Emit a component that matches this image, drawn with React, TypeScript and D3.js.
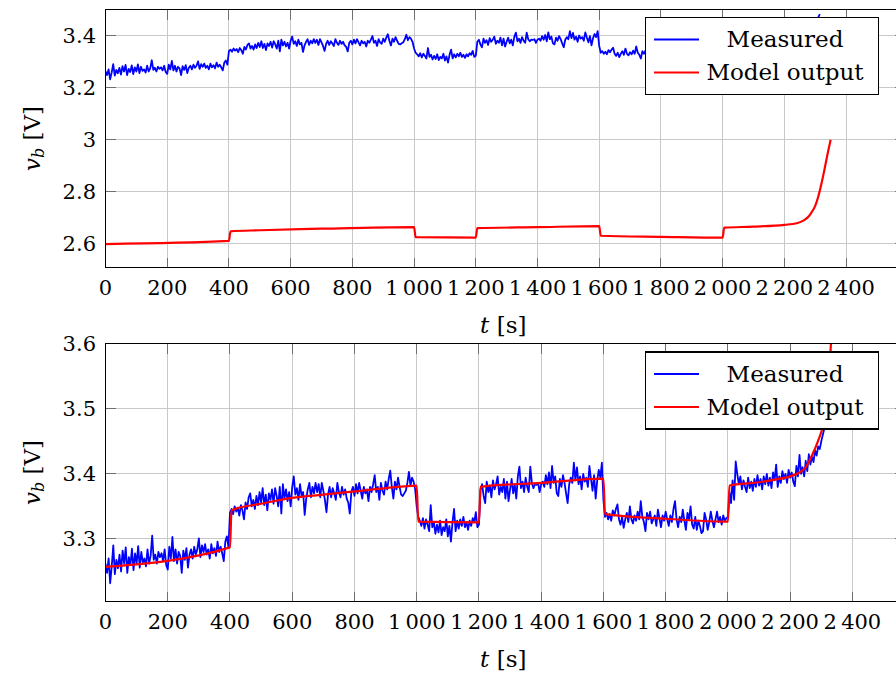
import React from "react";
import * as d3 from "d3";

// Time axis ticks [s] and voltage ticks [V]
const timeTicks = [0, 200, 400, 600, 800, 1000, 1200, 1400, 1600, 1800, 2000, 2200, 2400];
const topVoltTicks = [2.6, 2.8, 3, 3.2, 3.4];
const bottomVoltTicks = [3.3, 3.4, 3.5, 3.6];

// Measured terminal voltage, sampled every 5 s, in mV; one array per load step
const SAMPLE_STEP = 5;
const measuredStarts = [0, 400, 1000, 1200, 1600, 2000];
const measured0to400 = [
  3262, 3248, 3270, 3232, 3258, 3290, 3246, 3268, 3255, 3276, 3250, 3282, 3262, 3287, 3248, 3272,
  3260, 3285, 3252, 3278, 3262, 3289, 3256, 3280, 3264, 3270, 3258, 3284, 3262, 3274, 3305, 3268,
  3276, 3262, 3280, 3272, 3278, 3266, 3284, 3260, 3253, 3288, 3270, 3303, 3266, 3284, 3262, 3280,
  3274, 3248, 3282, 3268, 3286, 3256, 3276, 3284, 3270, 3288, 3276, 3284, 3301, 3272, 3290, 3280,
  3292, 3276, 3284, 3270, 3292, 3278, 3286, 3274, 3296, 3280, 3288, 3278, 3266, 3296, 3304, 3288,
];
const measured400to1000 = [
  3340, 3346, 3338, 3350, 3342, 3348, 3336, 3352, 3344, 3330, 3356, 3346, 3364, 3370, 3350, 3360,
  3346, 3366, 3352, 3372, 3356, 3378, 3352, 3368, 3344, 3370, 3360, 3376, 3354, 3378, 3366, 3350,
  3380, 3339, 3384, 3362, 3376, 3358, 3372, 3350, 3380, 3396, 3368, 3378, 3360, 3384, 3366, 3372,
  3337, 3362, 3376, 3386, 3364, 3380, 3370, 3386, 3372, 3384, 3364, 3386, 3374, 3360, 3341, 3368,
  3380, 3364, 3378, 3370, 3360, 3386, 3372, 3364, 3380, 3368, 3376, 3362, 3356, 3339, 3372, 3380,
  3366, 3384, 3370, 3386, 3374, 3362, 3380, 3370, 3376, 3358, 3380, 3372, 3384, 3398, 3372, 3380,
  3360, 3386, 3374, 3368, 3388, 3376, 3392, 3405, 3380, 3362, 3388, 3376, 3394, 3380, 3368, 3366,
  3370, 3374, 3386, 3403, 3382, 3394, 3388, 3376,
];
const measured1000to1200 = [
  3350, 3334, 3328, 3320, 3332, 3316, 3330, 3322, 3312, 3352, 3318, 3326, 3308, 3322, 3310, 3328,
  3306, 3318, 3312, 3330, 3304, 3320, 3296, 3326, 3346, 3312, 3328, 3316, 3330, 3320, 3334, 3318,
  3326, 3314, 3328, 3320, 3332, 3326, 3341, 3318,
];
const measured1200to1600 = [
  3322, 3376, 3384, 3366, 3355, 3388, 3372, 3382, 3364, 3390, 3376, 3384, 3396, 3368, 3380, 3372,
  3392, 3362, 3388, 3358, 3376, 3392, 3370, 3384, 3362, 3396, 3411, 3378, 3388, 3372, 3394, 3380,
  3372, 3411, 3386, 3378, 3384, 3383, 3386, 3372, 3384, 3388, 3380, 3398, 3384, 3402, 3378, 3412,
  3386, 3396, 3370, 3366, 3392, 3380, 3398, 3386, 3370, 3355, 3384, 3394, 3386, 3417, 3390, 3410,
  3384, 3396, 3376, 3400, 3388, 3394, 3380, 3412, 3392, 3374, 3398, 3362, 3390, 3406, 3394, 3417,
];
const measured1600to2000 = [
  3360, 3334, 3340, 3330, 3338, 3328, 3344, 3336, 3346, 3353, 3330, 3322, 3334, 3317, 3330, 3340,
  3326, 3350, 3330, 3324, 3336, 3328, 3342, 3330, 3358, 3334, 3326, 3312, 3340, 3330, 3342, 3324,
  3330, 3336, 3320, 3345, 3332, 3318, 3336, 3328, 3342, 3330, 3320, 3336, 3326, 3346, 3358, 3330,
  3318, 3334, 3326, 3345, 3328, 3314, 3340, 3330, 3350, 3322, 3316, 3334, 3314, 3328, 3320, 3309,
  3312, 3340, 3330, 3314, 3326, 3342, 3328, 3318, 3330, 3342, 3326, 3334, 3322, 3336, 3328, 3332,
];
const measured2000toEnd = [
  3334, 3372, 3355, 3390, 3360, 3419, 3400, 3384, 3396, 3376, 3390, 3380, 3372, 3394, 3378, 3388,
  3374, 3392, 3380, 3398, 3382, 3392, 3376, 3396, 3384, 3400, 3382, 3394, 3378, 3402, 3390, 3414,
  3380, 3396, 3386, 3404, 3392, 3400, 3386, 3406, 3394, 3402, 3388, 3381, 3412, 3396, 3429, 3400,
  3410, 3396, 3420, 3404, 3430, 3414, 3426, 3418, 3436, 3428, 3442, 3438, 3450, 3460, 3470, 3482,
];
const measuredSegments = [
  measured0to400, measured400to1000, measured1000to1200,
  measured1200to1600, measured1600to2000, measured2000toEnd,
];

// Model output with the initial parameter set [V]
const initialModelTime = [0, 400, 405, 500, 700, 1000, 1005, 1200, 1205, 1400, 1600, 1605, 1800, 2000, 2005, 2100, 2200, 2240, 2260, 2270, 2280, 2290, 2300, 2310, 2320, 2330, 2340, 2350];
const initialModelVolt = [2.599, 2.611, 2.648, 2.652, 2.658, 2.664, 2.626, 2.624, 2.66, 2.664, 2.668, 2.631, 2.627, 2.624, 2.662, 2.666, 2.673, 2.679, 2.688, 2.696, 2.707, 2.724, 2.746, 2.782, 2.83, 2.885, 2.945, 3.0];

// Model output with the identified parameter set [V]
const fittedModelTime = [0, 400, 405, 500, 600, 700, 800, 900, 1000, 1005, 1200, 1205, 1400, 1600, 1605, 1800, 2000, 2005, 2100, 2150, 2200, 2230, 2250, 2270, 2290, 2305, 2320, 2331, 2340];
const fittedModelVolt = [3.257, 3.287, 3.344, 3.354, 3.363, 3.368, 3.373, 3.378, 3.382, 3.3265, 3.3255, 3.38, 3.386, 3.3925, 3.338, 3.331, 3.3265, 3.382, 3.387, 3.391, 3.396, 3.402, 3.41, 3.428, 3.451, 3.473, 3.52, 3.6, 3.7];

type Pt = { t: number; v: number };

const measuredPoints: Pt[] = measuredSegments.flatMap((seg, k) =>
  seg.map((mv, i) => ({ t: measuredStarts[k] + i * SAMPLE_STEP, v: mv / 1000 }))
);
const initialModelPoints: Pt[] = initialModelTime.map((t, i) => ({ t, v: initialModelVolt[i] }));
const fittedModelPoints: Pt[] = fittedModelTime.map((t, i) => ({ t, v: fittedModelVolt[i] }));

const FONT = "'DejaVu Serif', serif";
const TICK_FS = 21;
const LABEL_FS = 23;
const fmtTime = d3.formatLocale({ decimal: ".", thousands: "\u2009", grouping: [3], currency: ["", ""] }).format(",");
const fmtVolt = (v: number) => String(+v.toFixed(1));

type PanelProps = {
  id: string;
  top: number;
  bottom: number;
  xMax: number;
  yDomain: [number, number];
  yTicks: number[];
  model: Pt[];
  legendTop: number;
};

const LEFT = 105.5;
const RIGHT = 905;

function Panel({ id, top, bottom, xMax, yDomain, yTicks, model, legendTop }: PanelProps) {
  const x = d3.scaleLinear().domain([0, xMax]).range([LEFT, RIGHT]);
  const y = d3.scaleLinear().domain(yDomain).range([bottom, top]);
  const line = d3.line<Pt>().x((d) => x(d.t)).y((d) => y(d.v));
  const modelLine = d3.line<Pt>().x((d) => x(d.t)).y((d) => y(d.v)).curve(d3.curveMonotoneX);
  const tickLen = 10;
  const midY = (top + bottom) / 2;
  const midX = (LEFT + RIGHT) / 2;
  const lx = 645.5, lw = 233, lh = 77;
  const row1 = legendTop + 22, row2 = legendTop + 55;

  return (
    <g>
      <defs>
        <clipPath id={`clip-${id}`}>
          <rect x={LEFT} y={top} width={RIGHT - LEFT} height={bottom - top} />
        </clipPath>
      </defs>
      {/* grid */}
      <g stroke="#c8c8c8" strokeWidth={1} shapeRendering="crispEdges">
        {timeTicks.map((t) => (
          <line key={`gx${t}`} x1={x(t)} x2={x(t)} y1={top} y2={bottom} />
        ))}
        {yTicks.map((v) => (
          <line key={`gy${v}`} x1={LEFT} x2={RIGHT} y1={y(v)} y2={y(v)} />
        ))}
      </g>
      {/* tick marks on all sides */}
      <g stroke="#6e6e6e" strokeWidth={1} shapeRendering="crispEdges">
        {timeTicks.map((t) => (
          <g key={`tx${t}`}>
            <line x1={x(t)} x2={x(t)} y1={bottom} y2={bottom - tickLen} />
            <line x1={x(t)} x2={x(t)} y1={top} y2={top + tickLen} />
          </g>
        ))}
        {yTicks.map((v) => (
          <g key={`ty${v}`}>
            <line x1={LEFT} x2={LEFT + tickLen} y1={y(v)} y2={y(v)} />
            <line x1={RIGHT} x2={RIGHT - tickLen} y1={y(v)} y2={y(v)} />
          </g>
        ))}
      </g>
      {/* series */}
      <g clipPath={`url(#clip-${id})`} fill="none" strokeLinejoin="round">
        <path d={line(measuredPoints) ?? ""} stroke="#0000ff" strokeWidth={1.8} />
        <path d={modelLine(model) ?? ""} stroke="#ff0000" strokeWidth={2.2} />
      </g>
      {/* frame */}
      <rect x={LEFT} y={top} width={RIGHT - LEFT} height={bottom - top} fill="none" stroke="#000" strokeWidth={1.2} shapeRendering="crispEdges" />
      {/* tick labels */}
      <g fontFamily={FONT} fontSize={TICK_FS} fill="#000">
        {timeTicks.map((t) => (
          <text key={`lx${t}`} x={x(t)} y={bottom + 27.5} textAnchor="middle">
            {fmtTime(t)}
          </text>
        ))}
        {yTicks.map((v) => (
          <text key={`ly${v}`} x={96} y={y(v) + 7.5} textAnchor="end">
            {fmtVolt(v)}
          </text>
        ))}
      </g>
      {/* axis labels */}
      <g fontFamily={FONT} fontSize={LABEL_FS} fill="#000">
        <text x={midX - 2} y={bottom + 65.5} textAnchor="middle">
          <tspan fontStyle="italic">t</tspan> [s]
        </text>
        <text transform={`translate(40, ${midY}) rotate(-90)`} textAnchor="middle">
          <tspan fontStyle="italic">v</tspan>
          <tspan fontStyle="italic" fontSize={16} dy={4}>b</tspan>
          <tspan dy={-4}> [V]</tspan>
        </text>
      </g>
      {/* legend */}
      <g>
        <rect x={lx} y={legendTop} width={lw} height={lh} fill="#fff" stroke="#000" strokeWidth={1.2} shapeRendering="crispEdges" />
        <line x1={654} x2={699} y1={row1} y2={row1} stroke="#0000ff" strokeWidth={1.8} />
        <line x1={654} x2={699} y1={row2} y2={row2} stroke="#ff0000" strokeWidth={2.2} />
        <g fontFamily={FONT} fontSize={LABEL_FS} fill="#000" textAnchor="middle">
          <text x={785} y={row1 + 7.5}>Measured</text>
          <text x={785} y={row2 + 7.5}>Model output</text>
        </g>
      </g>
    </g>
  );
}

export default function App() {
  return (
    <svg
      width={896}
      height={675}
      viewBox="0 0 896 675"
      style={{ position: "absolute", left: 0, top: 0, background: "#fff" }}
    >
      <rect width={896} height={675} fill="#fff" />
      <Panel
        id="initial"
        top={9.5}
        bottom={267.5}
        xMax={2591}
        yDomain={[2.509, 3.5]}
        yTicks={topVoltTicks}
        model={initialModelPoints}
        legendTop={17.5}
      />
      <Panel
        id="fitted"
        top={343.5}
        bottom={601.5}
        xMax={2569}
        yDomain={[3.204, 3.6]}
        yTicks={bottomVoltTicks}
        model={fittedModelPoints}
        legendTop={352}
      />
    </svg>
  );
}
